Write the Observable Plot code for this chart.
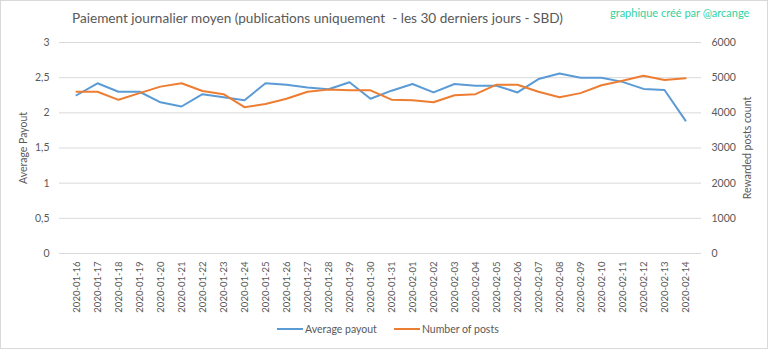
<!DOCTYPE html>
<html>
<head>
<meta charset="utf-8">
<script src="https://cdn.jsdelivr.net/npm/d3@7"></script>
<script src="https://cdn.jsdelivr.net/npm/@observablehq/plot@0.6"></script>
<style>
  html, body { margin: 0; padding: 0; background: #fff; }
  #wrap { position: relative; width: 766px; height: 347px; border: 1px solid #d9d9d9; font-family: Lato, sans-serif; overflow: hidden; background: #fff; }
  #title { position: absolute; left: 71px; top: 9px; font-size: 13.6px; color: #595959; white-space: nowrap; }
  #credit { position: absolute; left: 609px; top: 5px; font-size: 11px; color: #2fd3a3; white-space: nowrap; }
  #chart { position: absolute; left: 0; top: 33px; }
  #legend { position: absolute; top: 322px; left: 276px; font-size: 10.5px; color: #595959; display: flex; align-items: center; white-space: nowrap; }
  .sw { display: inline-block; width: 26px; height: 2px; margin-right: 2px; }
</style>
</head>
<body>
<div id="wrap">
  <div id="title">Paiement journalier moyen (publications uniquement&nbsp; - les 30 derniers jours - SBD)</div>
  <div id="credit">graphique créé par @arcange</div>
  <div id="chart"></div>
  <div id="legend">
    <span class="sw" style="background:#5B9BD5"></span><span>Average payout</span>
    <span class="sw" style="background:#ED7D31;margin-left:17px"></span><span>Number of posts</span>
  </div>
</div>
<script>
const dates = ["2020-01-16","2020-01-17","2020-01-18","2020-01-19","2020-01-20","2020-01-21","2020-01-22","2020-01-23","2020-01-24","2020-01-25",
  "2020-01-26","2020-01-27","2020-01-28","2020-01-29","2020-01-30","2020-01-31","2020-02-01","2020-02-02","2020-02-03","2020-02-04",
  "2020-02-05","2020-02-06","2020-02-07","2020-02-08","2020-02-09","2020-02-10","2020-02-11","2020-02-12","2020-02-13","2020-02-14"];
const payout = [2.25, 2.42, 2.30, 2.30, 2.15, 2.09, 2.265, 2.22, 2.18, 2.42,
  2.40, 2.36, 2.335, 2.435, 2.20, 2.315, 2.41, 2.29, 2.41, 2.385,
  2.385, 2.29, 2.48, 2.56, 2.50, 2.50, 2.44, 2.34, 2.325, 1.89];
const posts = [4600, 4600, 4370, 4560, 4745, 4840, 4620, 4530, 4160, 4250,
  4400, 4600, 4660, 4640, 4640, 4375, 4355, 4300, 4500, 4530,
  4800, 4800, 4600, 4445, 4560, 4785, 4915, 5055, 4935, 4980];
const leftTicks = [0, 0.5, 1, 1.5, 2, 2.5, 3];
const leftTickLabels = ["0", "0,5", "1", "1,5", "2", "2,5", "3"];
const rightTickLabels = ["0", "1000", "2000", "3000", "4000", "5000", "6000"];

const ratio = 2000; // right axis = left axis * 2000
const rows = dates.map((d, i) => ({date: d, payout: payout[i], posts: posts[i]}));

const plot = Plot.plot({
  width: 766,
  height: 282,
  marginLeft: 58,
  marginRight: 66,
  marginTop: 8,
  marginBottom: 63,
  style: {fontFamily: "Lato, sans-serif", fontSize: "10px", color: "#595959", background: "#fff"},
  x: {type: "point", domain: dates, padding: 0.5},
  y: {domain: [0, 3]},
  marks: [
    Plot.ruleY(leftTicks, {stroke: "#d9d9d9", strokeWidth: 1}),
    Plot.axisY({anchor: "left", ticks: leftTicks, tickSize: 0, tickPadding: 10,
      tickFormat: (d, i) => leftTickLabels[i],
      label: "Average Payout", labelAnchor: "center", labelArrow: "none", labelOffset: 40, fontSize: 10.5}),
    Plot.axisY({anchor: "right", ticks: leftTicks, tickSize: 0, tickPadding: 10,
      tickFormat: (d, i) => rightTickLabels[i],
      label: "Rewarded posts count", labelAnchor: "center", labelArrow: "none", labelOffset: 49, fontSize: 10.5}),
    Plot.axisX({tickRotate: -90, tickSize: 0, tickPadding: 8, label: null, fontSize: 9.5}),
    Plot.lineY(rows, {x: "date", y: "payout", stroke: "#5B9BD5", strokeWidth: 2}),
    Plot.lineY(rows, {x: "date", y: d => d.posts / ratio, stroke: "#ED7D31", strokeWidth: 2})
  ]
});
document.getElementById("chart").appendChild(plot);
</script>
</body>
</html>
